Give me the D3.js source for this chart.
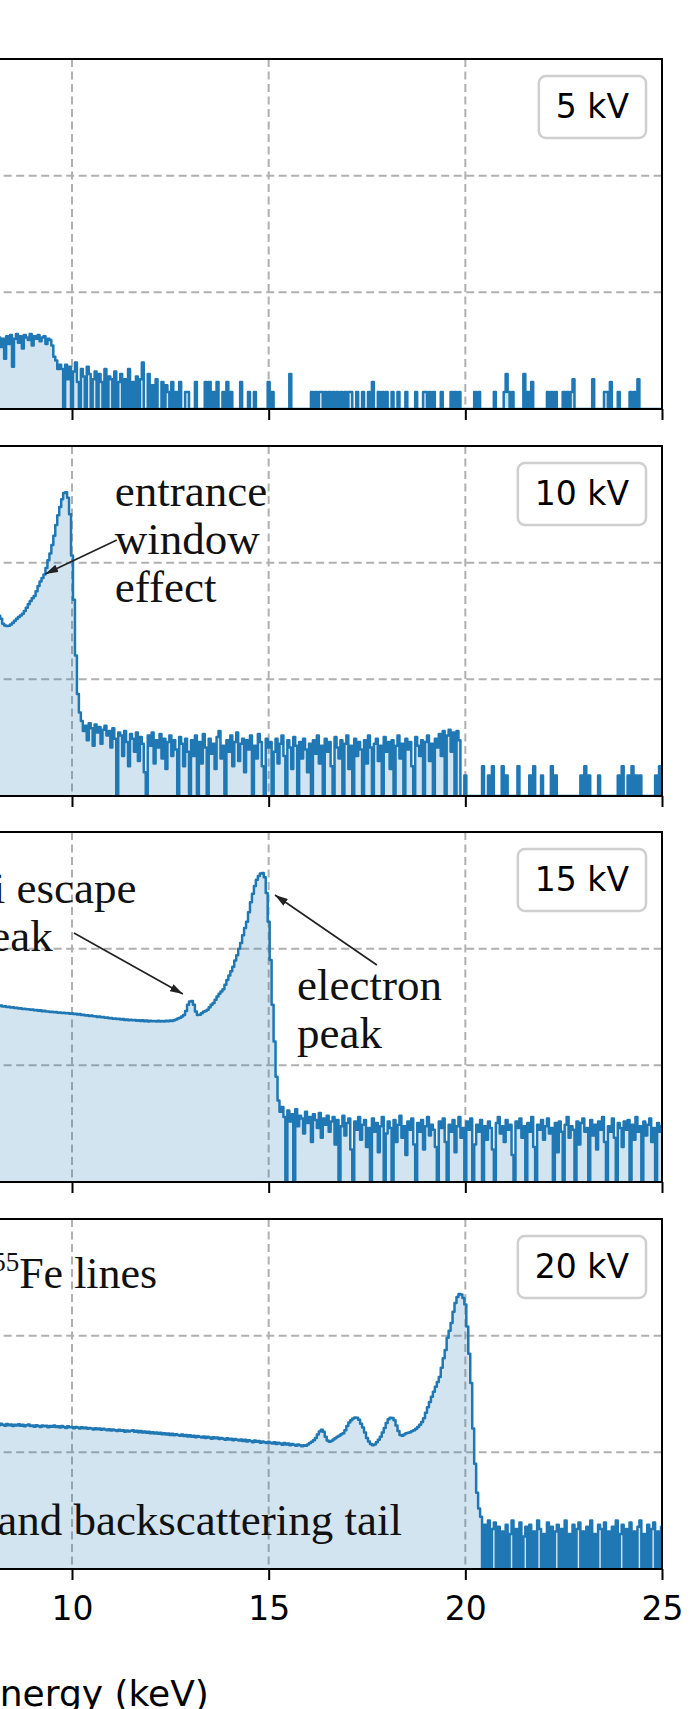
<!DOCTYPE html>
<html>
<head>
<meta charset="utf-8">
<script src="https://cdn.jsdelivr.net/npm/d3@7"></script>
<style>
  body { margin: 0; background: #fff; }
  svg { display: block; }
</style>
</head>
<body>
<div id="chart"></div>
<script>
// spectra are binned in 0.05 keV steps starting at 8.10 keV
const binStart = 8.1;
const binWidth = 0.05;

const voltages = ["5 kV", "10 kV", "15 kV", "20 kV"];
const xTicks = [0, 5, 10, 15, 20, 25];
const yGrid = [100, 1000];

const spec5kV = [
  38,41,34,40,27,42,36,43,23,40, 44,37,42,33,43,41,39,44,35,42,
  40,43,38,41,42,36,40,39,35,28, 26,22,24,22,0,24,18,23,0,21,
  25,17,0,22,19,0,23,20,0,18, 21,0,20,17,0,22,0,19,18,0,
  21,0,17,20,0,18,0,22,0,17, 0,19,0,18,25,0,0,20,0,16,
  0,18,0,0,17,0,16,14,0,17, 0,14,0,17,0,0,14,14,0,0,
  0,17,0,0,0,0,17,0,17,0, 14,0,17,0,0,14,0,17,0,14,
  0,0,0,0,17,0,0,0,14,0, 0,14,0,0,0,0,0,0,17,0,
  14,0,0,0,0,0,0,0,0,20, 0,0,0,0,0,0,0,0,0,0,
  14,0,14,0,14,14,0,14,0,14, 0,14,0,14,0,14,0,14,0,14,
  14,0,0,14,0,0,14,0,0,14, 0,17,0,0,14,0,14,0,14,0,
  0,14,0,0,14,0,0,0,14,0, 0,0,0,14,0,0,0,14,14,0,
  14,0,14,0,0,0,14,0,0,0, 0,14,0,14,0,14,0,0,0,0,
  0,0,0,14,0,14,0,0,0,0, 0,0,0,14,0,0,0,0,14,20,
  14,0,14,0,0,0,0,0,20,0, 14,0,17,0,0,0,0,0,0,0,
  14,0,14,0,14,0,0,0,14,0, 14,0,14,18,0,0,0,0,0,0,
  0,0,0,18,0,0,0,0,0,14, 14,0,17,0,0,0,14,0,0,0,
  0,0,14,0,14,0,18,0,0,0, 0,0,0,0,0,0,0,0,0
];

const spec10kV = [
  365,350,330,300,290,286,288,295,305,318, 330,342,352,365,385,410,440,470,495,518,
  570,630,690,740,790,900,1050,1200,1420,1700, 2100,2550,3000,3500,3950,4020,3600,2600,1150,480,
  160,75,52,44,36,40,30,42,38,27, 41,35,39,28,37,40,33,36,26,38,
  31,0,35,33,22,36,29,18,34,31, 24,35,20,32,28,16,0,33,27,35,
  19,30,26,34,21,31,17,29,33,22, 30,25,0,32,28,18,31,24,0,30,
  22,33,0,29,19,34,26,0,31,23, 28,17,32,36,21,27,0,30,24,33,
  18,29,35,20,28,31,16,30,25,33, 0,27,21,34,29,18,0,31,26,29,
  0,24,31,19,28,33,22,0,30,26, 17,32,27,0,29,21,31,25,16,28,
  0,30,23,33,19,27,0,31,24,29, 18,0,32,26,21,30,0,28,33,17,
  27,0,31,22,29,25,0,30,19,33, 26,0,28,31,20,27,0,32,24,29,
  17,30,0,27,33,21,28,0,31,25, 29,18,0,32,27,22,30,0,29,33,
  20,28,0,31,26,34,22,36,0,33, 37,24,35,0,36,30,0,0,15,0,
  0,0,0,0,0,0,0,18,0,0, 15,0,18,0,0,0,0,18,0,15,
  0,0,0,0,0,18,0,0,0,0, 0,15,0,18,0,0,0,15,0,0,
  0,0,18,0,15,0,0,0,0,0, 0,0,0,0,0,0,0,15,0,18,
  0,15,0,0,0,0,15,0,0,0, 0,0,0,0,0,0,15,0,18,0,
  0,15,0,18,0,15,0,15,0,0, 0,0,0,0,0,15,0,18,0
];

const spec15kV = [
  326,322,325,319,321,316,318,313,315,310, 312,307,309,304,306,302,303,299,301,296,
  298,294,296,291,293,289,290,287,288,285, 286,283,284,281,283,279,281,277,280,276,
  277,273,275,270,272,268,269,265,267,263, 264,260,262,258,259,256,257,253,255,251,
  252,249,251,247,249,245,247,243,246,244, 245,241,244,240,243,239,242,238,241,239,
  240,237,241,238,240,237,241,239,242,240, 244,247,252,256,262,270,292,330,352,356,
  330,290,270,272,280,288,292,300,315,330, 342,365,390,410,430,450,490,540,590,640,
  700,790,880,1000,1120,1300,1500,1700,2050,2500, 2950,3450,3900,4200,4400,4450,4100,3000,1700,800,
  330,160,80,50,40,44,36,0,41,33, 38,0,42,30,37,35,26,40,32,36,
  22,38,34,29,39,24,35,31,37,27, 33,36,21,34,0,30,37,25,32,35,
  19,0,33,28,36,23,31,34,20,29, 0,35,27,32,18,30,36,0,26,33,
  29,0,34,22,31,37,24,30,17,33, 28,35,21,0,32,27,34,19,30,36,
  25,31,28,20,0,33,29,35,22,0, 31,27,34,18,30,36,24,29,0,33,
  28,35,0,21,31,27,34,0,30,23, 33,29,19,0,32,36,26,30,22,34,
  28,31,17,0,33,29,35,24,30,0, 32,27,36,20,0,31,28,34,23,30,
  35,26,29,0,32,18,33,27,0,31, 36,24,30,28,0,33,21,32,35,27,
  29,0,34,25,31,19,33,28,36,22, 0,30,27,35,24,0,32,29,20,33,
  28,34,0,31,23,36,27,30,0,33, 25,31,35,22,29,0,32,27,30
];

const spec20kV = [
  174,171,176,172,169,175,171,173,168,172, 170,174,169,172,167,171,173,168,170,166,
  171,168,165,170,167,169,164,168,166,170, 165,167,163,168,165,162,167,164,165,161,
  165,163,160,164,161,163,159,162,160,157, 161,158,160,156,159,157,155,158,154,157,
  155,152,156,153,155,150,154,151,153,155, 150,153,149,152,148,151,147,150,146,149,
  145,148,144,147,143,146,142,145,141,144, 140,143,141,139,142,138,141,137,140,136,
  139,135,138,136,134,137,133,136,134,131, 135,132,134,130,133,131,128,132,129,131,
  127,130,128,126,129,125,128,124,127,125, 122,126,123,125,121,124,122,120,123,121,
  119,122,118,121,119,116,120,117,119,115, 118,116,114,117,115,113,115,114,117,120,
  123,127,133,142,151,156,150,136,126,123, 125,129,132,136,139,143,146,155,168,180,
  188,195,199,198,190,176,163,148,133,124, 118,115,117,122,128,136,148,162,178,192,
  198,197,188,170,152,141,139,142,146,147, 149,152,155,159,165,172,182,196,218,244,
  270,300,330,365,400,442,530,640,755,960, 1100,1285,1600,1905,2150,2271,2250,2100,1850,1200,
  700,392,160,80,45,33,28,0,24,0, 26,0,22,25,0,23,0,21,0,24,
  0,20,26,0,22,0,25,0,19,23, 0,24,0,21,0,26,22,0,20,0,
  25,0,23,0,21,24,0,22,0,26, 0,20,0,24,0,22,25,0,21,0,
  23,0,26,0,20,0,24,22,0,25, 0,21,0,23,0,26,0,20,24,0,
  22,0,25,0,21,0,23,26,0,20, 0,24,0,22,25,0,21,0,23
];

const spectra = [spec5kV, spec10kV, spec15kV, spec20kV];

// text annotations, placed in (energy, counts) of their panel
const notes = [
  { panel: 1, lines: ["entrance", "window", "effect"], e: 11.09, v: 3060, anchor: "start" },
  { panel: 2, lines: ["Si escape", "peak"], e: 7.35, v: 2460, anchor: "start" },
  { panel: 2, lines: ["electron", "peak"], e: 15.72, v: 363, anchor: "start" },
  { panel: 3, sup: "55", lines: ["Fe lines"], e: 7.97, v: 2564, anchor: "start" },
  { panel: 3, lines: ["and backscattering tail"], e: 18.39, v: 19.5, anchor: "end" }
];

const arrows = [
  { panel: 1, from: [11.14, 1563], to: [9.32, 800] },
  { panel: 2, from: [10.05, 1361], to: [12.82, 408] },
  { panel: 2, from: [17.75, 725], to: [15.16, 2884] }
];

const width = 700, height = 1709;
const panelTops = [59, 446, 832, 1219];
const panelH = 350;
const plotRight = 662;

const svg = d3.select("#chart").append("svg")
    .attr("width", width)
    .attr("height", height);

const defs = svg.append("defs");
defs.append("marker")
    .attr("id", "head")
    .attr("viewBox", "0 0 13 8")
    .attr("refX", 13)
    .attr("refY", 4)
    .attr("markerWidth", 13)
    .attr("markerHeight", 8)
    .attr("markerUnits", "userSpaceOnUse")
    .attr("orient", "auto")
    .append("path")
    .attr("d", "M0,0L13,4L0,8Z")
    .attr("fill", "#222");

// 10 keV sits at x=72, 25 keV on the right spine; the left part is cut off
const xScale = d3.scaleLinear()
    .domain([10, 25])
    .range([72, plotRight]);
const xLeft = xScale(0);

const yScales = panelTops.map(top => d3.scaleLog()
    .domain([10, 10000])
    .range([top + panelH, top]));

spectra.forEach((spec, k) => {
    const top = panelTops[k];
    const bottom = top + panelH;
    const yScale = yScales[k];
    const pts = spec.map((v, i) => ({ e: binStart + i * binWidth, v: Math.max(v, 10) }));

    defs.append("clipPath")
        .attr("id", "clip" + k)
        .append("rect")
        .attr("x", xLeft)
        .attr("y", top)
        .attr("width", plotRight - xLeft)
        .attr("height", panelH);

    const panel = svg.append("g").attr("class", "panel");

    // dashed grid
    panel.selectAll(".vgrid")
        .data(xTicks.slice(1, -1))
        .enter()
        .append("line")
        .attr("x1", d => xScale(d))
        .attr("x2", d => xScale(d))
        .attr("y1", top)
        .attr("y2", bottom)
        .attr("stroke", "#b0b0b0")
        .attr("stroke-width", 2)
        .attr("stroke-dasharray", "8,4.5");

    panel.selectAll(".hgrid")
        .data(yGrid)
        .enter()
        .append("line")
        .attr("x1", xLeft)
        .attr("x2", plotRight)
        .attr("y1", d => yScale(d))
        .attr("y2", d => yScale(d))
        .attr("stroke", "#b0b0b0")
        .attr("stroke-width", 2)
        .attr("stroke-dasharray", "8,4.5");

    const area = d3.area()
        .curve(d3.curveStep)
        .x(d => xScale(d.e))
        .y0(bottom)
        .y1(d => yScale(d.v));

    const line = d3.line()
        .curve(d3.curveStep)
        .x(d => xScale(d.e))
        .y(d => yScale(d.v));

    const plot = panel.append("g").attr("clip-path", `url(#clip${k})`);

    plot.append("path")
        .datum(pts)
        .attr("fill", "#1f77b4")
        .attr("fill-opacity", 0.2)
        .attr("d", area);

    plot.append("path")
        .datum(pts)
        .attr("fill", "none")
        .attr("stroke", "#1f77b4")
        .attr("stroke-width", 2.5)
        .attr("stroke-linejoin", "round")
        .attr("d", line);

    // frame
    panel.append("rect")
        .attr("x", xLeft)
        .attr("y", top)
        .attr("width", plotRight - xLeft)
        .attr("height", panelH)
        .attr("fill", "none")
        .attr("stroke", "#000")
        .attr("stroke-width", 2);

    const xAxis = d3.axisBottom(xScale)
        .tickValues(xTicks)
        .tickSize(11)
        .tickPadding(17)
        .tickFormat(k === 3 ? d3.format("d") : () => "");

    const axisGroup = panel.append("g")
        .attr("transform", `translate(0, ${bottom})`)
        .call(xAxis)
        .call(g => g.select(".domain").remove());

    axisGroup.selectAll(".tick line")
        .attr("stroke", "#000")
        .attr("stroke-width", 2);

    axisGroup.selectAll(".tick text")
        .attr("fill", "#000")
        .attr("font-size", 33)
        .attr("font-family", "DejaVu Sans");

    // legend box
    const legend = panel.append("g");
    const label = legend.append("text")
        .text(voltages[k])
        .attr("font-family", "DejaVu Sans")
        .attr("font-size", 33)
        .attr("text-anchor", "middle")
        .attr("fill", "#000");
    const tw = label.node().getComputedTextLength();
    const bw = tw + 34, bx = 646 - bw, by = top + 17;
    legend.insert("rect", "text")
        .attr("x", bx)
        .attr("y", by)
        .attr("width", bw)
        .attr("height", 62)
        .attr("rx", 7)
        .attr("fill", "#fff")
        .attr("fill-opacity", 0.8)
        .attr("stroke", "#cfcfcf")
        .attr("stroke-width", 2.5);
    label.attr("x", bx + bw / 2).attr("y", by + 42);
});

notes.forEach(n => {
    const t = svg.append("text")
        .attr("x", xScale(n.e))
        .attr("y", yScales[n.panel](n.v))
        .attr("font-family", "Liberation Serif")
        .attr("font-size", 45)
        .attr("text-anchor", n.anchor)
        .attr("fill", "#111");
    if (n.sup) {
        t.append("tspan").text(n.sup).attr("font-size", 27).attr("dy", -17);
        t.append("tspan").text(n.lines[0]).attr("font-size", 44).attr("dy", 17);
    } else {
        n.lines.forEach((s, i) => {
            t.append("tspan")
                .text(s)
                .attr("x", xScale(n.e))
                .attr("dy", i === 0 ? 0 : 48);
        });
    }
});

arrows.forEach(a => {
    const y = yScales[a.panel];
    svg.append("line")
        .attr("x1", xScale(a.from[0]))
        .attr("y1", y(a.from[1]))
        .attr("x2", xScale(a.to[0]))
        .attr("y2", y(a.to[1]))
        .attr("stroke", "#222")
        .attr("stroke-width", 1.7)
        .attr("marker-end", "url(#head)");
});

svg.append("text")
    .attr("x", -23)
    .attr("y", 1706)
    .attr("font-family", "DejaVu Sans")
    .attr("font-size", 36)
    .attr("fill", "#000")
    .text("Energy (keV)");
</script>
</body>
</html>
